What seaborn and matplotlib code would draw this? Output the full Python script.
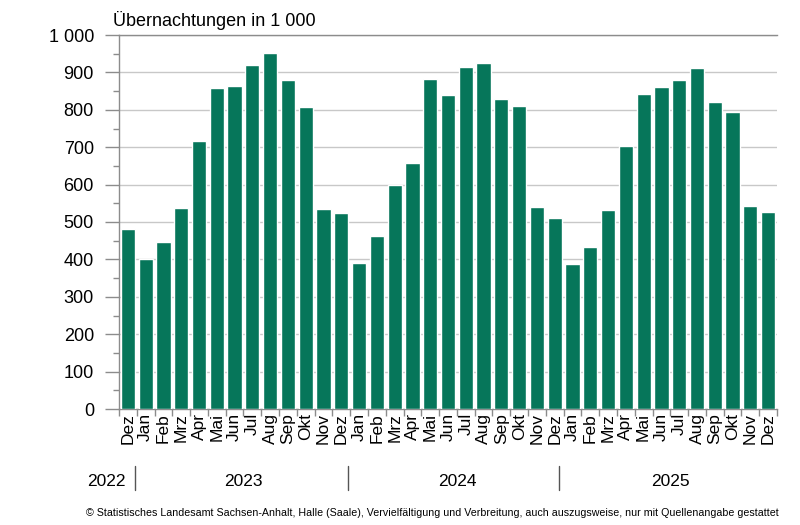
"""
Übernachtungen in Sachsen-Anhalt, monthly, Dez 2022 - Dez 2025
"""

import matplotlib
matplotlib.use("Agg")
import matplotlib.pyplot as plt
import matplotlib.transforms as mtransforms
from matplotlib.ticker import MultipleLocator, FuncFormatter
import seaborn as sns
import pandas as pd

# ─── Data ────────────────────────────────────────────────────────────────────
MONTHS = ["Dez",
          "Jan", "Feb", "Mrz", "Apr", "Mai", "Jun", "Jul", "Aug", "Sep", "Okt", "Nov", "Dez",
          "Jan", "Feb", "Mrz", "Apr", "Mai", "Jun", "Jul", "Aug", "Sep", "Okt", "Nov", "Dez",
          "Jan", "Feb", "Mrz", "Apr", "Mai", "Jun", "Jul", "Aug", "Sep", "Okt", "Nov", "Dez"]
YEARS = ["2022"] + ["2023"] * 12 + ["2024"] * 12 + ["2025"] * 12
VALUES = [482,
          400, 446, 537, 716, 857, 863, 921, 953, 880, 807, 535, 523,
          390, 463, 600, 657, 883, 839, 914, 924, 828, 809, 540, 510,
          389, 433, 532, 704, 843, 862, 879, 913, 821, 794, 544, 526]
YEAR_LABELS = ["2022", "2023", "2024", "2025"]

BAR_C  = "#06765A"
GRID_C = "#C8C8C8"
AXIS_C = "#8C8C8C"
TEXT_C = "#000000"

sns.set_style("white")
plt.rcParams["font.family"] = ["Liberation Sans", "DejaVu Sans"]

df = pd.DataFrame({"key": [f"{m} {y}" for m, y in zip(MONTHS, YEARS)],
                   "value": VALUES})

fig = plt.figure(figsize=(8, 5.25), dpi=100)
fig.patch.set_facecolor("white")
ax = fig.add_axes([119 / 800, 1 - 409 / 525, (777 - 119) / 800, (409 - 35) / 525])

sns.barplot(data=df, x="key", y="value", color=BAR_C, saturation=1,
            width=0.8, ax=ax, zorder=3)

ax.set_xlim(-0.5, len(VALUES) - 0.5)
ax.set_ylim(0, 1000)
ax.set_xlabel("")
ax.set_ylabel("")

# y axis
ax.yaxis.set_major_locator(MultipleLocator(100))
ax.yaxis.set_minor_locator(MultipleLocator(50))
ax.yaxis.set_major_formatter(FuncFormatter(lambda v, p: f"{int(v):,}".replace(",", " ")))
ax.yaxis.grid(True, which="major", color=GRID_C, linewidth=1, zorder=0)
ax.tick_params(axis="y", which="major", length=10, width=1, color=AXIS_C,
               labelsize=13, labelcolor=TEXT_C, pad=8, left=True)
ax.tick_params(axis="y", which="minor", length=4.5, width=1, color=AXIS_C, left=True)

# x axis: labels centred, tick marks on the bar boundaries
ax.set_xticks(range(len(MONTHS)))
ax.set_xticklabels(MONTHS, rotation=90, fontsize=12.5, color=TEXT_C)
ax.set_xticks([i - 0.5 for i in range(len(MONTHS) + 1)], minor=True)
ax.tick_params(axis="x", which="major", length=0, pad=3)
ax.tick_params(axis="x", which="minor", length=5, width=1, color=AXIS_C, bottom=True)

for side in ["left", "bottom", "top"]:
    ax.spines[side].set_visible(True)
    ax.spines[side].set_color(AXIS_C)
    ax.spines[side].set_linewidth(1)
ax.spines["right"].set_visible(False)

# year labels and separators below the month labels
trans = mtransforms.blended_transform_factory(ax.transData, ax.transAxes)
year_pos = [-1.2]
for y in YEAR_LABELS[1:]:
    idx = [i for i, yy in enumerate(YEARS) if yy == y]
    year_pos.append((idx[0] + idx[-1]) / 2)
for label, xp in zip(YEAR_LABELS, year_pos):
    ax.text(xp, -0.195, label, transform=trans, ha="center", va="center",
            fontsize=12.5, color=TEXT_C, clip_on=False)
for xs in [0.4, 12.4, 24.25]:
    ax.plot([xs, xs], [-0.152, -0.217], transform=trans, color="#555555",
            linewidth=1, clip_on=False)

fig.text(113 / 800, 1 - 20 / 525, "Übernachtungen in 1 000", ha="left", va="center",
         fontsize=13, color=TEXT_C)
fig.text(432 / 800, 1 - 513 / 525,
         "© Statistisches Landesamt Sachsen-Anhalt, Halle (Saale), Vervielfältigung und "
         "Verbreitung, auch auszugsweise, nur mit Quellenangabe gestattet",
         ha="center", va="center", fontsize=7.7, color=TEXT_C)

fig.savefig("out.png", dpi=100, facecolor="white")
